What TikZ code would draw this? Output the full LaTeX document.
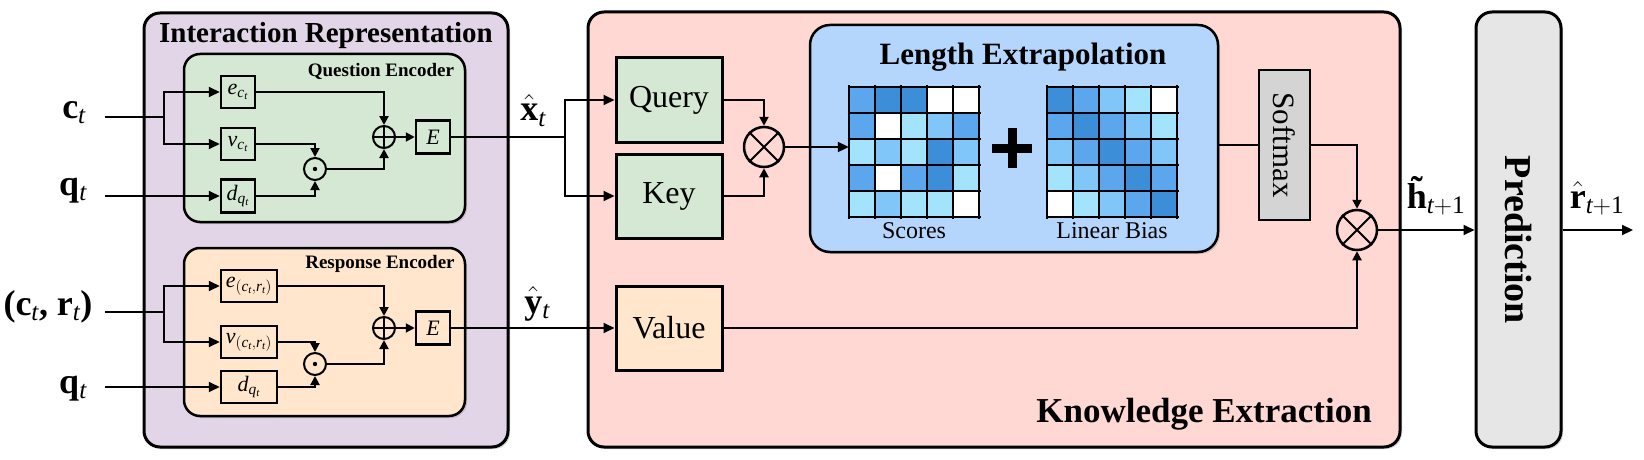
\documentclass[tikz,border=0pt]{standalone}
\usepackage{fix-cm}
\usepackage{fontspec}
\setmainfont{Liberation Serif}
\usetikzlibrary{shadows,arrows.meta}

\definecolor{irfill}{HTML}{E1D5E7}
\definecolor{qefill}{HTML}{D5E8D4}
\definecolor{refill}{HTML}{FFE6CC}
\definecolor{kefill}{HTML}{FFD7D3}
\definecolor{lefill}{HTML}{B4D6FD}
\definecolor{smfill}{HTML}{D4D4D4}
\definecolor{prfill}{HTML}{E6E6E6}
\definecolor{cellA}{HTML}{3D8ED8}
\definecolor{cellB}{HTML}{5CA6EE}
\definecolor{cellC}{HTML}{80C6F8}
\definecolor{cellD}{HTML}{A3E4FC}
\definecolor{cellW}{HTML}{FFFFFF}

\newcommand\fsz[1]{\fontsize{#1}{#1}\selectfont}
\newcommand\tildeh{\ooalign{h\cr\hidewidth\raisebox{0.17em}{\char"02DC}\hidewidth\cr}}

\begin{document}
\begin{tikzpicture}[x=1pt,y=-1pt,
  shad/.style={drop shadow={shadow xshift=2pt,shadow yshift=-2pt,opacity=0.3}},
  bigbox/.style={draw, line width=3pt, rounded corners=16pt, inner sep=0pt, shad},
  encbox/.style={draw, line width=2.5pt, rounded corners=16pt, inner sep=0pt, shad},
  emb/.style={draw, line width=2.5pt, inner sep=0pt, minimum height=32pt, font=\fsz{22}},
  kqv/.style={draw, line width=3pt, inner sep=0pt, minimum width=106pt, minimum height=84pt, font=\fsz{32}},
  plainln/.style={line width=2pt},
  conn/.style={line width=2pt, -{Triangle[length=11pt,width=10pt]}},
  sconn/.style={line width=2pt, -{Triangle[length=9pt,width=9pt]}},
  opc/.style={circle, draw, line width=2pt, minimum size=22pt, inner sep=0pt},
  otc/.style={circle, draw, line width=2.5pt, minimum size=40pt, inner sep=0pt},
  lbl/.style={font=\fsz{36}, inner sep=0pt, anchor=base},
  gridln/.style={line width=1.5pt}
]
\useasboundingbox (0,0) rectangle (1644,460);

% big boxes
\node[bigbox, fill=irfill, minimum width=364pt, minimum height=434pt] (ir) at (326,230) {};
\node[bigbox, fill=kefill, minimum width=812pt, minimum height=435pt] (ke) at (994,229.5) {};
\node[bigbox, fill=prfill, minimum width=85pt, minimum height=435pt] (pred) at (1518.5,229.5) {};

\node[font=\fsz{29}\bfseries, anchor=base, inner sep=0pt] (irt) at (326,43) {Interaction Representation};
\node[font=\fsz{35}\bfseries, anchor=base east, inner sep=0pt] (ket) at (1372,422) {Knowledge Extraction};
\node[font=\fsz{38}\bfseries, rotate=-90, inner sep=0pt] (prt) at (1518,240) {Prediction};

% encoders
\node[encbox, fill=qefill, minimum width=281pt, minimum height=168pt] (qe) at (324.5,138) {};
\node[encbox, fill=refill, minimum width=281pt, minimum height=168pt] (re) at (324.5,332) {};
\node[font=\fsz{19}\bfseries, anchor=base, inner sep=0pt] (qet) at (381,77) {Question Encoder};
\node[font=\fsz{19}\bfseries, anchor=base, inner sep=0pt] (ret) at (380,268) {Response Encoder};

% question encoder internals
\node[emb, minimum width=34pt] (ec) at (238,92) {$\mathit{e}_{\mathit{c}_{\mathit{t}}}$};
\node[emb, minimum width=34pt] (vc) at (238,144) {$\mathit{v}_{\mathit{c}_{\mathit{t}}}$};
\node[emb, minimum width=34pt, minimum height=33pt] (dq) at (238,196) {$\mathit{d}_{\mathit{q}_{\mathit{t}}}$};
\node[opc] (op1) at (384,137) {};
\node[opc] (od1) at (315,169) {};
\node[emb, minimum width=34pt, minimum height=33pt] (E1) at (433,137) {$\mathit{E}$};
\draw[line width=2pt] (op1.north) -- (op1.south) (op1.west) -- (op1.east);
\fill (od1.center) circle (2.2pt);

% response encoder internals
\node[emb, minimum width=56pt] (ecr) at (249,286) {$\mathit{e}_{(\mathit{c}_{\mathit{t}},\mathit{r}_{\mathit{t}})}$};
\node[emb, minimum width=56pt] (vcr) at (249,342) {$\mathit{v}_{(\mathit{c}_{\mathit{t}},\mathit{r}_{\mathit{t}})}$};
\node[emb, minimum width=56pt] (dq2) at (249,387) {$\mathit{d}_{\mathit{q}_{\mathit{t}}}$};
\node[opc] (op2) at (384,328) {};
\node[opc] (od2) at (315,364) {};
\node[emb, minimum width=34pt, minimum height=33pt] (E2) at (433,328) {$\mathit{E}$};
\draw[line width=2pt] (op2.north) -- (op2.south) (op2.west) -- (op2.east);
\fill (od2.center) circle (2.2pt);

% input labels
\node[lbl] (lct) at (74,118) {$\mathbf{c}_{\mathit{t}}$};
\node[lbl] (lqt) at (73,195) {$\mathbf{q}_{\mathit{t}}$};
\node[lbl] (lcr) at (48,315) {\textbf{(}$\mathbf{c}_{\mathit{t}}$\textbf{,} $\mathbf{r}_{\mathit{t}}$\textbf{)}};
\node[lbl] (lqt2) at (73,393) {$\mathbf{q}_{\mathit{t}}$};

\coordinate (cin) at (105,117);
\coordinate (br1) at (164,117);
\coordinate (qin) at (105,196);
\coordinate (cin2) at (105,312);
\coordinate (br2) at (164,312);
\coordinate (qin2) at (105,387);

\draw[plainln] (cin) -- (br1);
\draw[conn] (br1) |- (ec.west);
\draw[conn] (br1) |- (vc.west);
\draw[conn] (qin) -- (dq.west);
\draw[sconn] (ec.east) -| (op1.north);
\draw[sconn] (vc.east) -| (od1.north);
\draw[sconn] (dq.east) -| (od1.south);
\draw[sconn] (od1.east) -| (op1.south);
\draw[sconn] (op1.east) -- (E1.west);

\draw[plainln] (cin2) -- (br2);
\draw[conn] (br2) |- (ecr.west);
\draw[conn] (br2) |- (vcr.west);
\draw[conn] (qin2) -- (dq2.west);
\draw[sconn] (ecr.east) -| (op2.north);
\draw[sconn] (vcr.east) -| (od2.north);
\draw[sconn] (dq2.east) -| (od2.south);
\draw[sconn] (od2.east) -| (op2.south);
\draw[sconn] (op2.east) -- (E2.west);

% knowledge extraction internals
\node[kqv, fill=qefill] (qry) at (669,100) {Query};
\node[kqv, fill=qefill] (key) at (669,196) {Key};
\node[kqv, fill=refill] (val) at (669,328) {Value};

\node[lbl] (lx) at (533,121) {$\hat{\mathbf{x}}_{\mathit{t}}$};
\node[lbl] (ly) at (537,313) {$\hat{\mathbf{y}}_{\mathit{t}}$};

\coordinate (br3) at (565,137);
\draw[plainln] (E1.east) -- (br3);
\draw[conn] (br3) |- (qry.west);
\draw[conn] (br3) |- (key.west);
\draw[conn] (E2.east) -- (val.west);

\node[otc] (ot1) at (764,147) {};
\draw[line width=2pt] (ot1.north west) -- (ot1.south east) (ot1.north east) -- (ot1.south west);
\draw[sconn] (qry.east) -| (ot1.north);
\draw[sconn] (key.east) -| (ot1.south);

% length extrapolation
\node[draw, line width=2.5pt, rounded corners=20pt, fill=lefill, inner sep=0pt, shad,
      minimum width=408pt, minimum height=227pt] (le) at (1014,138.5) {};
\node[font=\fsz{31}\bfseries, anchor=base, inner sep=0pt] (let) at (1023,64) {Length Extrapolation};

\node[inner sep=0pt, minimum size=130pt] (scores) at (914,152) {};
\node[inner sep=0pt, minimum size=130pt] (bias) at (1112,152) {};

\foreach \row [count=\r from 0] in {{B,A,A,W,W},{B,W,D,C,B},{D,C,D,A,C},{B,W,B,A,D},{D,C,D,D,W}} {
  \foreach \col [count=\k from 0] in \row {
    \fill[fill=cell\col] ({849+26*\k},{87+26*\r}) rectangle ++(26,26);
  }
}
\foreach \row [count=\r from 0] in {{A,B,C,D,W},{B,A,B,C,D},{C,B,A,B,C},{D,C,B,A,B},{W,D,C,B,A}} {
  \foreach \col [count=\k from 0] in \row {
    \fill[fill=cell\col] ({1047+26*\k},{87+26*\r}) rectangle ++(26,26);
  }
}
\foreach \i in {0,...,5} {
  \draw[gridln] ({849+26*\i},85.5) -- ({849+26*\i},218.5);
  \draw[gridln] (847.5,{87+26*\i}) -- (980.5,{87+26*\i});
  \draw[gridln] ({1047+26*\i},85.5) -- ({1047+26*\i},218.5);
  \draw[gridln] (1045.5,{87+26*\i}) -- (1178.5,{87+26*\i});
}
\fill (992,143.5) rectangle (1032,152.5);
\fill (1007.5,128) rectangle (1016.5,168);

\node[font=\fsz{24}, anchor=base, inner sep=0pt] (scl) at (914,238) {Scores};
\node[font=\fsz{24}, anchor=base, inner sep=0pt] (bil) at (1112,238) {Linear Bias};

\draw[conn] (ot1.east) -- (scores.west |- ot1.east);

% softmax
\node[draw, line width=2.5pt, fill=smfill, inner sep=0pt, minimum width=51pt, minimum height=150pt] (sm) at (1284.5,145) {};
\node[font=\fsz{31}, rotate=-90, inner sep=0pt] (smt) at (sm.center) {Softmax};

\node[otc] (ot2) at (1357,230) {};
\draw[line width=2pt] (ot2.north west) -- (ot2.south east) (ot2.north east) -- (ot2.south west);

\draw[plainln] (le.east |- sm.west) -- (sm.west);
\draw[sconn] (sm.east) -| (ot2.north);
\draw[sconn] (val.east) -| (ot2.south);

\draw[conn] (ot2.east) -- (pred.west |- ot2.east);
\coordinate (rout) at (1633,230);
\draw[conn] (pred.east |- ot2.east) -- (rout);

\node[lbl] (lh) at (1436,208) {$\hbox{\bfseries\tildeh}_{\mathit{t}\mathrm{+1}}$};
\node[lbl] (lr) at (1597,208) {$\hat{\mathbf{r}}_{\mathit{t}\mathrm{+1}}$};

\end{tikzpicture}
\end{document}
